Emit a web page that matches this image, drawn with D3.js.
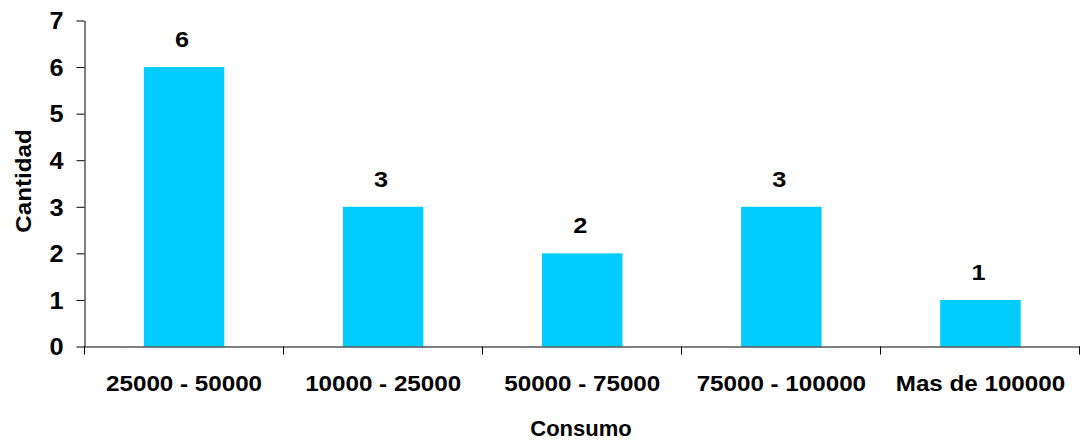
<!DOCTYPE html>
<html>
<head>
<meta charset="utf-8">
<script src="https://cdn.jsdelivr.net/npm/d3@7"></script>
<style>
  html, body { margin: 0; padding: 0; background: #fff; }
  svg { display: block; }
  text { font-family: "Liberation Sans", Arial, sans-serif; font-weight: bold; fill: #000; }
</style>
</head>
<body>
<script>
// Consumption ranges and number of cases in each
const categories = ["25000 - 50000", "10000 - 25000", "50000 - 75000", "75000 - 100000", "Mas de 100000"];
const counts = [6, 3, 2, 3, 1];
const yTicks = [0, 1, 2, 3, 4, 5, 6, 7];
const xTitle = "Consumo";
const yTitle = "Cantidad";

const W = 1081, H = 441;
const plotLeft = 84.5, plotRight = 1080, plotTop = 20.5, plotBottom = 346.5;
const stretch = 1.1;

const svg = d3.select("body").append("svg").attr("width", W).attr("height", H);

const x = d3.scaleBand().domain(categories).range([plotLeft, plotRight]).paddingInner(0).paddingOuter(0);
const y = d3.scaleLinear().domain([0, 7]).range([plotBottom, plotTop]);
const barW = x.bandwidth() * 0.404;

// Bars
svg.append("g").selectAll("rect").data(categories).join("rect")
  .attr("x", (d) => x(d) + (x.bandwidth() - barW) / 2)
  .attr("y", (d, i) => y(counts[i]))
  .attr("width", barW)
  .attr("height", (d, i) => y(0) - y(counts[i]))
  .attr("fill", "#00CCFF");

// Y axis
const yAxis = svg.append("g").attr("transform", `translate(${plotLeft},0)`)
  .call(d3.axisLeft(y).tickValues(yTicks).tickSize(8).tickSizeOuter(0).tickPadding(13).tickFormat(d3.format("d")));
yAxis.select(".domain").attr("stroke", "#000");
yAxis.selectAll(".tick line").attr("stroke", "#000");
yAxis.selectAll(".tick text")
  .attr("font-size", 23).attr("dy", "0.36em").attr("fill", "#000")
  .attr("transform", function () { const xx = +d3.select(this).attr("x"); return `translate(${xx * (1 - stretch)},0) scale(${stretch},1)`; });

// X axis: ticks mark the band boundaries
const xAxisG = svg.append("g");
xAxisG.append("line").attr("x1", plotLeft).attr("x2", plotRight).attr("y1", plotBottom + 0.5).attr("y2", plotBottom + 0.5).attr("stroke", "#000");
const edges = categories.map((d) => x(d)).concat([x(categories[categories.length - 1]) + x.bandwidth()]);
xAxisG.selectAll("line.edge").data(edges).join("line").attr("class", "edge")
  .attr("x1", (d) => Math.round(d) - 0.5).attr("x2", (d) => Math.round(d) - 0.5)
  .attr("y1", plotBottom).attr("y2", plotBottom + 8).attr("stroke", "#000");

// Category labels
svg.append("g").selectAll("text").data(categories).join("text")
  .attr("text-anchor", "middle").attr("font-size", 22)
  .attr("transform", (d) => `translate(${x(d) + x.bandwidth() / 2},391) scale(${stretch},1)`)
  .text((d) => d);

// Value labels above bars
svg.append("g").selectAll("text").data(categories).join("text")
  .attr("text-anchor", "middle").attr("font-size", 22)
  .attr("transform", (d, i) => `translate(${x(d) + x.bandwidth() / 2 - 2},${y(counts[i]) - 20}) scale(1.15,1)`)
  .text((d, i) => counts[i]);

// Axis titles
svg.append("text").attr("text-anchor", "middle").attr("font-size", 22)
  .attr("transform", `translate(581,436)`).text(xTitle);
svg.append("text").attr("text-anchor", "middle").attr("font-size", 22)
  .attr("transform", `translate(31,181) rotate(-90) scale(1.1,1)`).text(yTitle);
</script>
</body>
</html>
